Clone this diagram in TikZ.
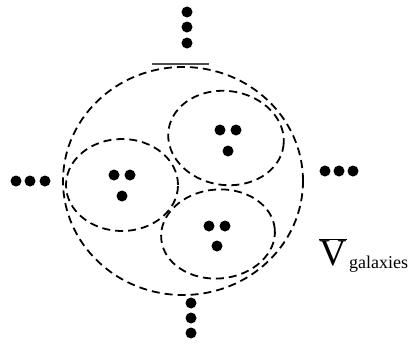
\documentclass[tikz,border=0pt]{standalone}
\usepackage{fontspec}
\setmainfont{Liberation Serif}
\usetikzlibrary{shapes.geometric}
\begin{document}
\begin{tikzpicture}[x=1pt,y=-1pt,
  dot/.style={circle,fill=black,inner sep=0pt,minimum size=11pt},
  dashring/.style={ellipse,draw=black,line width=1.8pt,dash pattern=on 8pt off 5pt,inner sep=0pt},
]
\useasboundingbox (0,0) rectangle (414,343);
% big cell
\node[dashring,minimum width=240pt,minimum height=228pt] (big) at (183,181) {};
% sub cells
\node[dashring,minimum width=112pt,minimum height=92pt] (left) at (122,185) {};
\node[dashring,minimum width=116pt,minimum height=94pt,rotate=-8] (ur) at (226,138) {};
\node[dashring,minimum width=114pt,minimum height=89pt,rotate=5] (bot) at (218,234) {};
% dots inside
\node[dot] (l1) at (114,175) {};
\node[dot] (l2) at (130,175) {};
\node[dot] (l3) at (122,196) {};
\node[dot] (u1) at (220,130) {};
\node[dot] (u2) at (236,130) {};
\node[dot] (u3) at (228,151) {};
\node[dot] (b1) at (209,226) {};
\node[dot] (b2) at (225,226) {};
\node[dot] (b3) at (217,246) {};
% outer ellipsis dots
\node[dot] (t1) at (187,12) {};
\node[dot] (t2) at (187,27) {};
\node[dot] (t3) at (187,43) {};
\node[dot] (w1) at (16,181) {};
\node[dot] (w2) at (30,181) {};
\node[dot] (w3) at (45,181) {};
\node[dot] (e1) at (325,171) {};
\node[dot] (e2) at (339,171) {};
\node[dot] (e3) at (353,171) {};
\node[dot] (s1) at (191,303) {};
\node[dot] (s2) at (191,318) {};
\node[dot] (s3) at (191,333) {};
% bar above big cell
\coordinate (barL) at (152,64);
\coordinate (barR) at (209,64);
\draw[line width=1.2pt,black!70] (barL) -- (barR);
% label
\node[anchor=base west,inner sep=0pt] (V) at (319,265) {\fontsize{38}{38}\selectfont$\overline{\hbox{V}}$};
\node[anchor=base west,inner sep=0pt] (gal) at (349,268) {\fontsize{18}{18}\selectfont galaxies};
\end{tikzpicture}
\end{document}
